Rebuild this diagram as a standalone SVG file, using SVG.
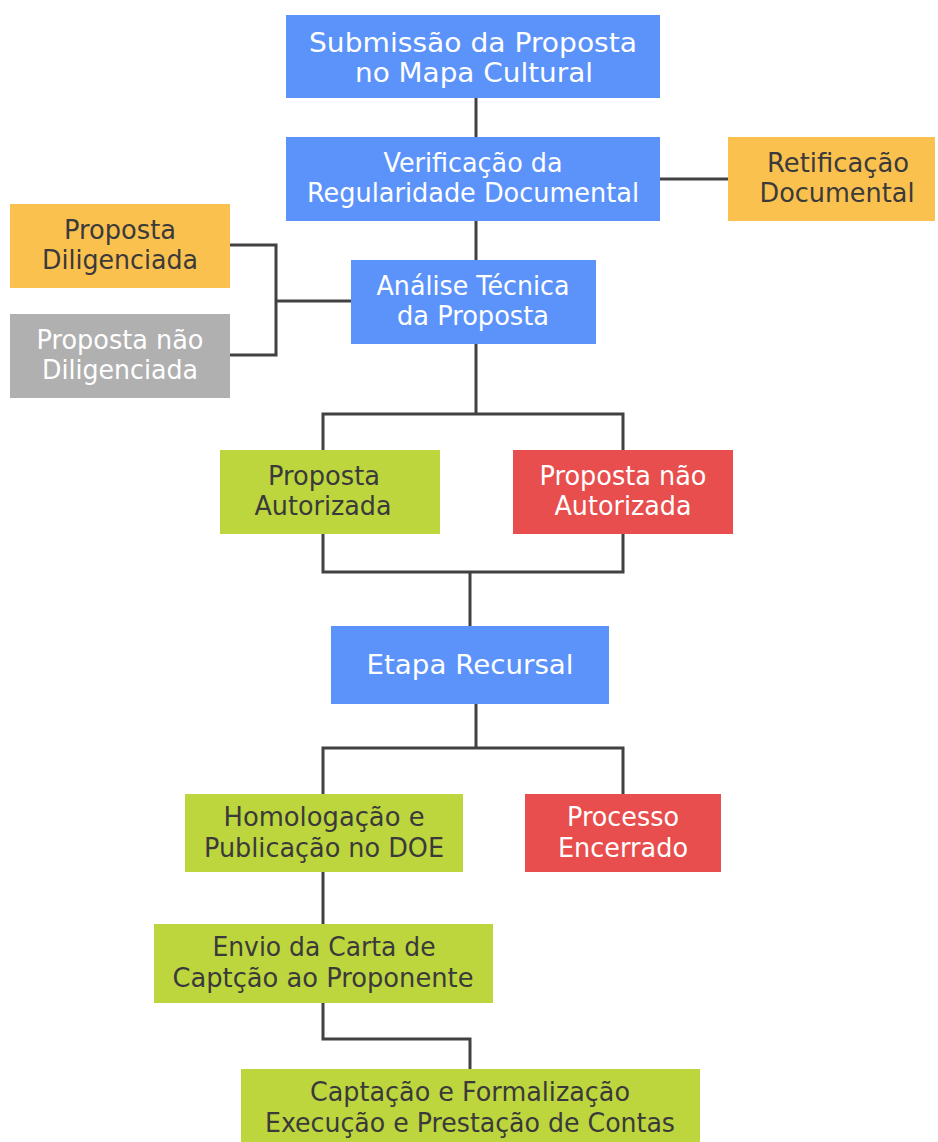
<svg xmlns="http://www.w3.org/2000/svg" width="938" height="1142" viewBox="0 0 938 1142">
<style>
.b{fill:#5c93fb}.o{fill:#fbc14f}.g{fill:#bdd63e}.r{fill:#e84e4d}.gr{fill:#b0b0b0}
text{font-family:"DejaVu Sans","Open Sans",sans-serif;font-size:27px;text-anchor:middle}
.w{fill:#ffffff}.d{fill:#3a3a3a}
.c{fill:none;stroke:#414141;stroke-width:3}
</style>
<rect width="938" height="1142" fill="#ffffff"/>
<g id="connectors">
<path class="c" d="M476 98V137"/>
<path class="c" d="M660 179H728"/>
<path class="c" d="M476 221V260"/>
<path class="c" d="M230 245H276V355H230M276 301H351"/>
<path class="c" d="M476 343V414M323 450V414H623V450"/>
<path class="c" d="M323 534V572H623V534M470 572V626"/>
<path class="c" d="M476 704V748M323 794V748H623V794"/>
<path class="c" d="M323 872V924"/>
<path class="c" d="M323 1003V1039H470V1069"/>
</g>
<g id="n1"><rect class="b" x="286" y="15" width="374" height="83"/><text class="w" x="473" y="52" textLength="328" lengthAdjust="spacingAndGlyphs">Submissão da Proposta</text><text class="w" x="474" y="82" textLength="238" lengthAdjust="spacingAndGlyphs">no Mapa Cultural</text></g>
<g id="n2"><rect class="b" x="286" y="137" width="374" height="84"/><text class="w" x="473" y="172" textLength="179" lengthAdjust="spacingAndGlyphs">Verificação da</text><text class="w" x="473" y="202" textLength="332" lengthAdjust="spacingAndGlyphs">Regularidade Documental</text></g>
<g id="n3"><rect class="o" x="728" y="137" width="207" height="84"/><text class="d" x="838" y="172" textLength="142" lengthAdjust="spacingAndGlyphs">Retificação</text><text class="d" x="837" y="202" textLength="155" lengthAdjust="spacingAndGlyphs">Documental</text></g>
<g id="n4"><rect class="o" x="10" y="204" width="220" height="84"/><text class="d" x="120" y="239" textLength="112" lengthAdjust="spacingAndGlyphs">Proposta</text><text class="d" x="120" y="269" textLength="156" lengthAdjust="spacingAndGlyphs">Diligenciada</text></g>
<g id="n5"><rect class="gr" x="10" y="314" width="220" height="84"/><text class="w" x="120" y="349" textLength="167" lengthAdjust="spacingAndGlyphs">Proposta não</text><text class="w" x="120" y="379" textLength="156" lengthAdjust="spacingAndGlyphs">Diligenciada</text></g>
<g id="n6"><rect class="b" x="351" y="260" width="245" height="84"/><text class="w" x="473" y="295" textLength="193" lengthAdjust="spacingAndGlyphs">Análise Técnica</text><text class="w" x="473" y="325" textLength="152" lengthAdjust="spacingAndGlyphs">da Proposta</text></g>
<g id="n7"><rect class="g" x="220" y="450" width="220" height="84"/><text class="d" x="324" y="485" textLength="112" lengthAdjust="spacingAndGlyphs">Proposta</text><text class="d" x="323" y="515" textLength="137" lengthAdjust="spacingAndGlyphs">Autorizada</text></g>
<g id="n8"><rect class="r" x="513" y="450" width="220" height="84"/><text class="w" x="623" y="485" textLength="167" lengthAdjust="spacingAndGlyphs">Proposta não</text><text class="w" x="623" y="515" textLength="137" lengthAdjust="spacingAndGlyphs">Autorizada</text></g>
<g id="n9"><rect class="b" x="331" y="626" width="278" height="78"/><text class="w" x="470" y="674" textLength="207" lengthAdjust="spacingAndGlyphs">Etapa Recursal</text></g>
<g id="n10"><rect class="g" x="185" y="794" width="278" height="78"/><text class="d" x="324" y="826" textLength="201" lengthAdjust="spacingAndGlyphs">Homologação e</text><text class="d" x="324" y="857" textLength="240" lengthAdjust="spacingAndGlyphs">Publicação no DOE</text></g>
<g id="n11"><rect class="r" x="525" y="794" width="196" height="78"/><text class="w" x="623" y="826" textLength="112" lengthAdjust="spacingAndGlyphs">Processo</text><text class="w" x="623" y="857" textLength="130" lengthAdjust="spacingAndGlyphs">Encerrado</text></g>
<g id="n12"><rect class="g" x="154" y="924" width="339" height="79"/><text class="d" x="324" y="956" textLength="223" lengthAdjust="spacingAndGlyphs">Envio da Carta de</text><text class="d" x="323" y="987" textLength="301" lengthAdjust="spacingAndGlyphs">Captção ao Proponente</text></g>
<g id="n13"><rect class="g" x="241" y="1069" width="459" height="80"/><text class="d" x="470" y="1101" textLength="320" lengthAdjust="spacingAndGlyphs">Captação e Formalização</text><text class="d" x="470" y="1132" textLength="410" lengthAdjust="spacingAndGlyphs">Execução e Prestação de Contas</text></g>
</svg>
